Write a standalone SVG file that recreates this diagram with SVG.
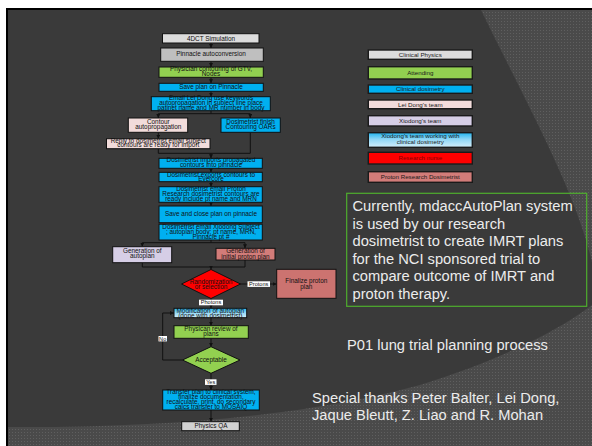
<svg xmlns="http://www.w3.org/2000/svg" width="592" height="446" viewBox="0 0 592 446">
<defs>
<pattern id="tex" width="3" height="3" patternUnits="userSpaceOnUse"><rect width="3" height="3" fill="#4a4a4a"/><rect width="1" height="1" fill="#5f5f5f"/></pattern>
<linearGradient id="grad" x1="0" y1="0" x2="0" y2="1"><stop offset="0" stop-color="#1fb4ef"/><stop offset="0.45" stop-color="#8fd6f5"/><stop offset="1" stop-color="#d4eefa"/></linearGradient>
<marker id="ar" viewBox="0 0 6 6" refX="6" refY="3" markerWidth="4" markerHeight="4" markerUnits="userSpaceOnUse" orient="auto"><path d="M0,0 L6,3 L0,6 Z" fill="#111"/></marker>
</defs>
<style>
.b{stroke:#111;stroke-width:1}
.lg{stroke:#1a1a1a;stroke-width:1.4}
.gray{fill:#dcdcdc}.dgray{fill:#bfbfbf}.green{fill:#92d050}.blue{fill:#00b0f0}.pink{fill:#f2dcdb}.lav{fill:#d6cee6}.rose{fill:#d27c79}.red{fill:#ff0000}.grad{fill:url(#grad)}
.t{font-family:"Liberation Sans",Arial,sans-serif;font-size:6.4px;fill:#111;text-anchor:middle}
.lt{font-family:"Liberation Sans",Arial,sans-serif;font-size:6.2px;fill:#1a1a1a;text-anchor:middle}
.big{font-family:"Liberation Sans",Arial,sans-serif;font-size:14.7px;fill:#ececec}
.c{fill:none;stroke:#111;stroke-width:1}
.lbl{fill:#fff}
</style>
<rect x="0" y="0" width="592" height="446" fill="#fff"/>
<rect x="8" y="10" width="584" height="436" fill="#3a3a3a"/>
<path d="M481,10 C530,110 575,190 592,262 L592,10 Z" fill="url(#tex)"/>
<path d="M8,427 C150,428 300,418 420,385 C500,360 560,330 592,305 L592,446 L8,446 Z" fill="url(#tex)"/>
<path d="M7,446 V9 H592" fill="none" stroke="#000" stroke-width="2"/>

<g id="connectors">
<path class="c" d="M211,43 V48" marker-end="url(#ar)"/>
<path class="c" d="M211,61.3 V67" marker-end="url(#ar)"/>
<path class="c" d="M211,77.3 V83.3" marker-end="url(#ar)"/>
<path class="c" d="M211,91.3 V96.7" marker-end="url(#ar)"/>
<path class="c" d="M211,110.7 V113.7 M158.3,113.7 H250.3"/>
<path class="c" d="M158.3,113.7 V118" marker-end="url(#ar)"/>
<path class="c" d="M250.3,113.7 V118" marker-end="url(#ar)"/>
<path class="c" d="M158.3,132.3 V138.7" marker-end="url(#ar)"/>
<path class="c" d="M158.3,148.7 V153.3 H250.3 V132.3"/>
<path class="c" d="M211,153.3 V158.3" marker-end="url(#ar)"/>
<path class="c" d="M211,168.3 V172.3" marker-end="url(#ar)"/>
<path class="c" d="M211,181.7 V186.7" marker-end="url(#ar)"/>
<path class="c" d="M211,202.3 V206" marker-end="url(#ar)"/>
<path class="c" d="M211,222.7 V224.2"/>
<path class="c" d="M211,240 V242.7 M142.3,242.7 H245"/>
<path class="c" d="M142.3,242.7 V246.7" marker-end="url(#ar)"/>
<path class="c" d="M245,242.7 V248.3" marker-end="url(#ar)"/>
<path class="c" d="M142.3,262.7 V267 H245 V260"/>
<path class="c" d="M211,267 V269.5" marker-end="url(#ar)"/>
<path class="c" d="M240,284 H276.7" marker-end="url(#ar)"/>
<path class="c" d="M211,298.5 V308.3" marker-end="url(#ar)"/>
<path class="c" d="M211,317.7 V325.7" marker-end="url(#ar)"/>
<path class="c" d="M211,338.3 V346.7" marker-end="url(#ar)"/>
<path class="c" d="M211,373.3 V390" marker-end="url(#ar)"/>
<path class="c" d="M182.7,360 H162.7 V313 H174" marker-end="url(#ar)"/>
<path class="c" d="M211,410 V421.7" marker-end="url(#ar)"/>
<rect class="lbl" x="247.5" y="281.3" width="22.5" height="5.6"/>
<text class="t" x="258.7" y="286" style="font-size:5.6px">Protons</text>
<rect class="lbl" x="199" y="299.7" width="24" height="5.6"/>
<text class="t" x="211" y="304.4" style="font-size:5.6px">Photons</text>
<rect class="lbl" x="158.5" y="336" width="8.5" height="5.4"/>
<text class="t" x="162.7" y="340.5" style="font-size:5.6px">No</text>
<rect class="lbl" x="205" y="379.3" width="11.5" height="5.6"/>
<text class="t" x="210.7" y="384" style="font-size:5.6px">Yes</text>
</g>

<g id="n4dct"><rect class="b gray" x="162.5" y="33.7" width="96.5" height="9.3"/><text class="t" x="211" y="40.6">4DCT Simulation</text></g>
<g id="nPinnacle"><rect class="b dgray" x="160.7" y="48" width="102.6" height="13.3"/><text class="t" x="211" y="55.5">Pinnacle autoconversion</text></g>
<g id="nPhysician"><rect class="b green" x="159" y="67" width="104.3" height="10.3"/><text class="t" x="211" y="71.2">Physician contouring of GTV,</text><text class="t" x="211" y="76.4">Nodes</text></g>
<g id="nSave"><rect class="b blue" x="159" y="83.3" width="104.3" height="8"/><text class="t" x="211" y="89.2">Save plan on Pinnacle</text></g>
<g id="nEmailLei"><rect class="b blue" x="151.3" y="96.7" width="119" height="14"/><text class="t" x="211" y="99.6">Email Lei Dong use keywords</text><text class="t" x="211" y="105">autopropagation in subject line place</text><text class="t" x="211" y="110.4">patinet name and MR number in body</text></g>
<g id="nContour"><rect class="b pink" x="128.3" y="118" width="59.4" height="14.3"/><text class="t" x="158.3" y="124.2">Contour</text><text class="t" x="158.3" y="129.3">autopropagation</text></g>
<g id="nDosFinish"><rect class="b blue" x="221" y="118" width="59.3" height="14.3"/><text class="t" x="250.6" y="124.2">Dosimetrist finish</text><text class="t" x="250.6" y="129.3">Contouring OARs</text></g>
<g id="nReply"><rect class="b pink" x="106.5" y="138.7" width="103.5" height="10"/><text class="t" x="158.3" y="142.8">Reply to dosimetrist email subject</text><text class="t" x="158.3" y="147.4">contours are ready for import</text></g>
<g id="nImports"><rect class="b blue" x="159" y="158.3" width="103.3" height="10"/><text class="t" x="211" y="162.3">Dosimetrist imports propagated</text><text class="t" x="211" y="167.2">contours into pinnacle</text></g>
<g id="nExports"><rect class="b blue" x="159" y="172.3" width="103.3" height="9.4"/><text class="t" x="211" y="176.5">Dosimetrist exports contours to</text><text class="t" x="211" y="181.2">Evercore</text></g>
<g id="nEmailProton"><rect class="b blue" x="159" y="186.7" width="103.3" height="15.6"/><text class="t" x="211" y="191.2">Dosimetrist email Proton</text><text class="t" x="211" y="195.8">Research dosimetrist contours are</text><text class="t" x="211" y="200.5">ready include pt name and MRN</text></g>
<g id="nSaveClose"><rect class="b blue" x="159" y="206" width="103.3" height="16.7"/><text class="t" x="211" y="215.6">Save and close plan on pinnacle</text></g>
<g id="nEmailXiodong"><rect class="b blue" x="159" y="224.2" width="103.3" height="15.8"/><text class="t" x="211" y="228.9">Dosimetrist email Xiodong Subject</text><text class="t" x="211" y="233.9">; autoplan body; pt name, MRN,</text><text class="t" x="211" y="238.9">Pinnacle pt #</text></g>
<g id="nGenAuto"><rect class="b lav" x="112.7" y="246.7" width="59" height="16"/><text class="t" x="142.3" y="252.9">Generation of</text><text class="t" x="142.3" y="258.2">autoplan</text></g>
<g id="nGenProton"><rect class="b rose" x="216" y="248.3" width="59" height="11.7"/><text class="t" x="245.5" y="253.2">Generation of</text><text class="t" x="245.5" y="258.9">initial proton plan</text></g>
<g id="nRandom"><path class="b red" d="M211,269.5 L240.5,284 L211,298.5 L181.5,284 Z"/><text class="t" x="211" y="283.9">Randomization</text><text class="t" x="211" y="288.9">or selection</text></g>
<g id="nFinalize"><rect class="b rose" x="276.7" y="269.3" width="59.3" height="29" style="fill:#cc7370"/><text class="t" x="306.3" y="283.2">Finalize proton</text><text class="t" x="306.3" y="288.9">plan</text></g>
<g id="nModify"><rect class="b grad" x="174" y="308.3" width="72.7" height="9.4"/><text class="t" x="210.3" y="313.2">Modification of autoplan</text><text class="t" x="210.3" y="318.2">(done with dosimetrist)</text></g>
<g id="nReview"><rect class="b green" x="174" y="325.7" width="74.3" height="12.6"/><text class="t" x="211" y="330.5">Physican review of</text><text class="t" x="211" y="335.5">plans</text></g>
<g id="nAcceptable"><path class="b green" d="M211,346.7 L240,360 L211,373.3 L182.5,360 Z"/><text class="t" x="211" y="362.2">Acceptable</text></g>
<g id="nTransfer"><rect class="b blue" x="162.7" y="390" width="96.6" height="20"/><text class="t" x="211" y="393.9">Transfer plan to clinical system,</text><text class="t" x="211" y="398.9">finalize documentation,</text><text class="t" x="211" y="404.4">recalculate, print, do secondary</text><text class="t" x="211" y="409.4">calcs transfer to MOSAIQ</text></g>
<g id="nQA"><rect class="b gray" x="181.7" y="421.7" width="57.6" height="9" style="fill:#d2d2d2"/><text class="t" x="211" y="428.4">Physics QA</text></g>

<g id="legend">
<g id="lgPhysics"><rect class="lg gray" x="368.3" y="50" width="104" height="9.3"/><text class="lt" x="420.3" y="56.9">Clinical Physics</text></g>
<g id="lgAttending"><rect class="lg green" x="368.3" y="66.7" width="104" height="12.3"/><text class="lt" x="420.3" y="75">Attending</text></g>
<g id="lgDosimetry"><rect class="lg blue" x="368.3" y="85" width="104" height="8.3"/><text class="lt" x="420.3" y="91.4">Clinical dosimetry</text></g>
<g id="lgLeiDong"><rect class="lg pink" x="368.3" y="100" width="104" height="8.7"/><text class="lt" x="420.3" y="106.5">Lei Dong's team</text></g>
<g id="lgXiodong"><rect class="lg lav" x="368.3" y="115.7" width="104" height="10.3"/><text class="lt" x="420.3" y="123">Xiodong's team</text></g>
<g id="lgXiodongDos"><rect class="lg grad" x="368.3" y="132.7" width="104" height="14.6"/><text class="lt" x="420.3" y="138.2">Xiodong's team working with</text><text class="lt" x="420.3" y="143.9">clinical dosimetry</text></g>
<g id="lgNurse"><rect class="lg red" x="368.3" y="152.3" width="104" height="11.7"/><text class="lt" x="420.3" y="160.4" style="fill:#8a0000">Research nurse</text></g>
<g id="lgProton"><rect class="lg rose" x="368.3" y="171.7" width="104" height="10.6"/><text class="lt" x="420.3" y="179.2">Proton Research Dosimetrist</text></g>
</g>

<g id="note">
<rect x="346.7" y="193.3" width="240" height="113" fill="none" stroke="#4fae2e" stroke-width="1.2"/>
<text class="big" x="352.5" y="211">Currently, mdaccAutoPlan system</text>
<text class="big" x="352.5" y="228.5">is used by our research</text>
<text class="big" x="352.5" y="246">dosimetrist to create IMRT plans</text>
<text class="big" x="352.5" y="263.5">for the NCI sponsored trial to</text>
<text class="big" x="352.5" y="281">compare outcome of IMRT and</text>
<text class="big" x="352.5" y="298.5">proton therapy.</text>
</g>
<text class="big" x="347" y="349.5">P01 lung trial planning process</text>
<text class="big" x="312" y="403">Special thanks Peter Balter, Lei Dong,</text>
<text class="big" x="312" y="420">Jaque Bleutt, Z. Liao and R. Mohan</text>
</svg>
